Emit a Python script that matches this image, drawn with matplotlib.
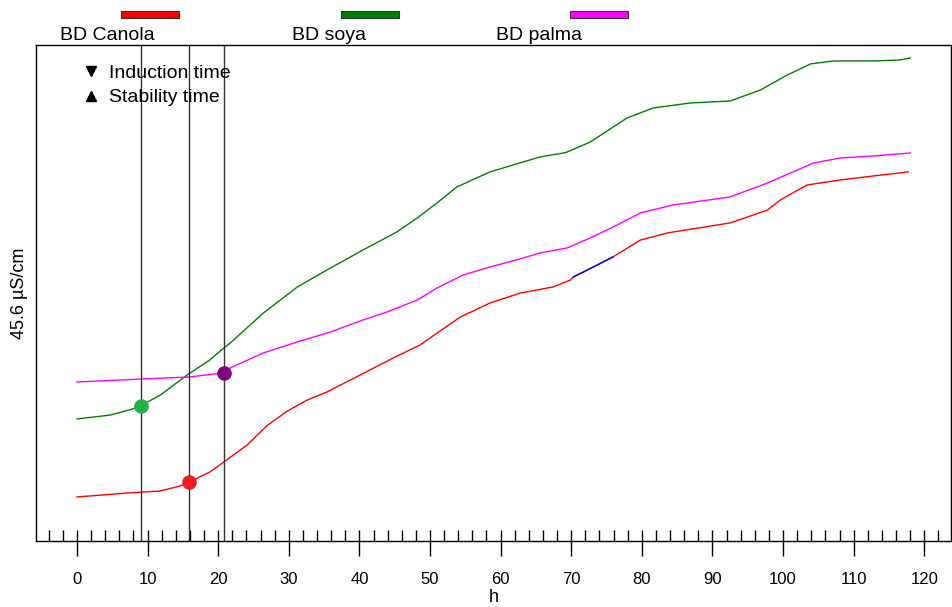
import matplotlib.pyplot as plt
from matplotlib.lines import Line2D
from matplotlib.patches import Rectangle
from matplotlib.ticker import MultipleLocator

plt.rcParams['font.family'] = ['Liberation Sans', 'DejaVu Sans']

# Conductivity curves (h, µS/cm)
canola_h = [0, 7.1, 11.8, 14.6, 15.9, 18.8, 20.8, 24.1, 26.9, 29.8, 32.6, 35.4,
            40.1, 44.8, 48.6, 51.0, 54.3, 58.5, 62.8, 67.4, 69.9, 70.3, 75.9,
            79.8, 83.6, 92.5, 97.8, 99.6, 103.4, 108.1, 112.8, 117.7]
canola_s = [4.05, 4.41, 4.60, 5.06, 5.42, 6.34, 7.26, 8.83, 10.60, 11.95, 12.96, 13.70,
            15.26, 16.83, 18.02, 19.12, 20.59, 21.88, 22.80, 23.35, 24.00, 24.27, 26.11,
            27.67, 28.32, 29.24, 30.43, 31.35, 32.73, 33.19, 33.56, 33.93]

soya_h = [0, 4.7, 7.9, 9.1, 11.8, 15.6, 18.8, 20.8, 21.7, 26.4, 31.2, 35.9, 40.5, 45.3,
          48.2, 51.0, 53.8, 58.5, 63.2, 65.6, 68.9, 69.4, 72.7, 77.9, 81.6,
          86.9, 92.5, 96.8, 100.6, 103.9, 107.1, 112.8, 116.6, 118.0]
soya_s = [11.22, 11.58, 12.14, 12.45, 13.42, 15.26, 16.64, 17.74, 18.20, 20.96, 23.35, 25.10,
          26.75, 28.41, 29.70, 31.08, 32.55, 33.93, 34.85, 35.31, 35.67, 35.76, 36.68,
          38.89, 39.81, 40.27, 40.45, 41.46, 42.84, 43.86, 44.13, 44.13, 44.22, 44.41]

palma_h = [0, 9.1, 15.9, 20.8, 21.7, 26.4, 31.2, 35.9, 40.5, 43.9, 48.2, 51.0,
           54.7, 58.5, 63.2, 65.6, 69.4, 72.7, 76.5, 79.8, 84.4, 92.5, 97.8,
           101.4, 104.3, 108.1, 112.8, 118.0]
palma_s = [14.62, 14.89, 15.08, 15.45, 15.91, 17.29, 18.30, 19.22, 20.32, 21.05, 22.16, 23.26,
           24.46, 25.19, 26.02, 26.48, 26.94, 27.86, 29.05, 30.16, 30.89, 31.63, 32.91,
           33.93, 34.75, 35.21, 35.40, 35.67]

# highlighted stretch on the canola curve
seg_h = [70.3, 72.7, 75.9]
seg_s = [24.27, 25.05, 26.11]

# induction times (h) and the conductivity at those points
ind_h = [9.1, 15.9, 20.8]
ind_s = [12.45, 5.42, 15.45]
ind_colors = ['#22b14c', '#ed1c24', '#800080']

names = ['BD Canola', 'BD soya', 'BD palma']
colors = ['#ff0000', '#008000', '#ff00ff']

fig = plt.figure(figsize=(9.53, 6.07), dpi=100)
ax = fig.add_axes([0.0378, 0.1087, 0.9602, 0.8172])

ax.plot(canola_h, canola_s, color=colors[0], lw=1)
ax.plot(soya_h, soya_s, color=colors[1], lw=1)
ax.plot(palma_h, palma_s, color=colors[2], lw=1)
ax.plot(seg_h, seg_s, color='#0000ff', lw=1)

for h in ind_h:
    ax.axvline(h, color='#333333', lw=1)
for h, s, c in zip(ind_h, ind_s, ind_colors):
    ax.plot(h, s, 'o', color=c, ms=9.5, zorder=5)

ax.set_xlim(-5.8, 123.8)
ax.set_ylim(0, 45.6)
ax.xaxis.set_major_locator(MultipleLocator(10))
ax.xaxis.set_minor_locator(MultipleLocator(2))
ax.xaxis.remove_overlapping_locs = False
ax.tick_params(axis='x', which='major', direction='out', length=11, width=1,
               labelsize=12, pad=11)
ax.tick_params(axis='x', which='minor', direction='in', length=8, width=1)
ax.set_xticks(range(0, 121, 10))
ax.set_yticks([])
for sp in ax.spines.values():
    sp.set_linewidth(1)

ax.set_xlabel('h', fontsize=13, labelpad=2)
ax.set_ylabel('45.6 µS/cm', fontsize=13, labelpad=6)

# marker legend inside the plot
handles = [Line2D([], [], ls='none', marker='v', color='black', ms=7),
           Line2D([], [], ls='none', marker='^', color='black', ms=7)]
ax.legend(handles, ['Induction time', 'Stability time'], loc='upper left',
          bbox_to_anchor=(0.033, 0.996), frameon=False, fontsize=14,
          handlelength=0.8, handletextpad=0.5, labelspacing=0.35)

# series key above the plot
key_x = [0.127, 0.358, 0.598]
lab_x = [0.063, 0.306, 0.520]
for kx, lx, name, c in zip(key_x, lab_x, names, colors):
    fig.patches.append(Rectangle((kx, 0.971), 0.061, 0.0115, transform=fig.transFigure,
                                 facecolor=c, edgecolor='#333333', lw=0.8))
    fig.text(lx, 0.928, name, fontsize=14, ha='left', va='bottom')

fig.savefig('out.png', dpi=100)
